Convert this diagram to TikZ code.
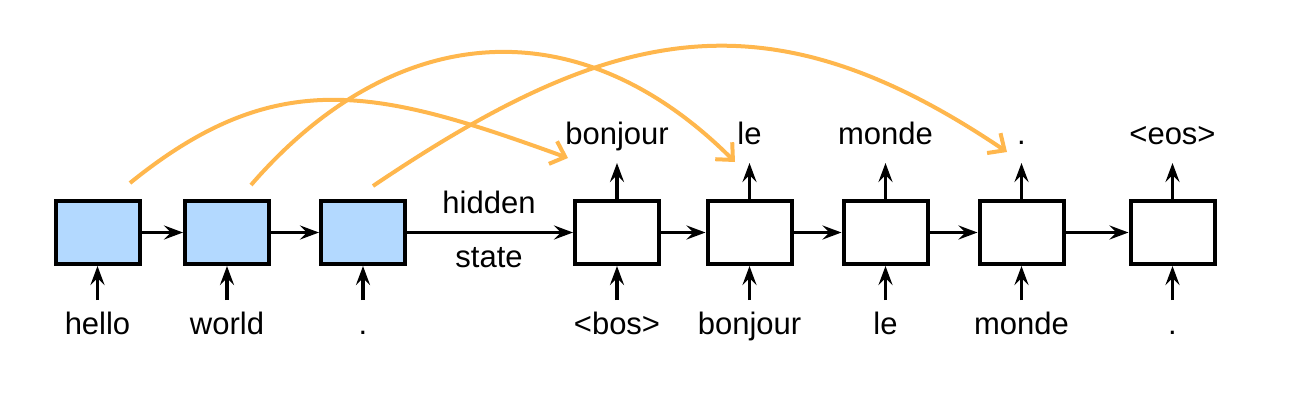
\documentclass[tikz,border=0pt]{standalone}
\usepackage{fontspec}
\setmainfont{Liberation Sans}
\usetikzlibrary{arrows.meta}
\definecolor{encfill}{RGB}{179,217,255}
\definecolor{attn}{RGB}{255,183,77}
\tikzset{
  cell/.style={draw=black, line width=4pt, minimum width=84pt, minimum height=63pt, inner sep=0pt},
  enc/.style={cell, fill=encfill},
  dec/.style={cell, fill=white},
  arr/.style={line width=3.5pt, -{Stealth[length=19pt,width=14pt,inset=7pt]}},
  att/.style={draw=attn, line width=4pt, -{Straight Barb[length=13pt,width=24pt]}},
  word/.style={anchor=base, inner sep=0pt, font=\fontsize{31}{37}\selectfont},
}
\begin{document}
\begin{tikzpicture}[x=1pt,y=-1pt]
\useasboundingbox (0,0) rectangle (1307,413);
% boxes
\node[enc] (b1) at (97.5,232.5) {};
\node[enc] (b2) at (227,232.5) {};
\node[enc] (b3) at (363,232.5) {};
\node[dec] (b4) at (617,232.5) {};
\node[dec] (b5) at (749.5,232.5) {};
\node[dec] (b6) at (885.5,232.5) {};
\node[dec] (b7) at (1021.5,232.5) {};
\node[dec] (b8) at (1172.5,232.5) {};
% input labels
\node[word] (l1) at (97.5,334) {hello};
\node[word] (l2) at (227,334) {world};
\node[word] (l3) at (363,334) {.};
\node[word] (l4) at (617,334) {<bos>};
\node[word] (l5) at (749.5,334) {bonjour};
\node[word] (l6) at (885.5,334) {le};
\node[word] (l7) at (1021.5,334) {monde};
\node[word] (l8) at (1172.5,334) {.};
% output labels
\node[word] (o4) at (617,144) {bonjour};
\node[word] (o5) at (749.5,144) {le};
\node[word] (o6) at (885.5,144) {monde};
\node[word] (o7) at (1021.5,144) {.};
\node[word] (o8) at (1172.5,144) {<eos>};
% hidden state
\node[word] (hid) at (489,213) {hidden};
\node[word] (sta) at (489,267) {state};
% input arrows
\foreach \i/\x in {1/97.5,2/227,3/363,4/617,5/749.5,6/885.5,7/1021.5,8/1172.5}{
  \coordinate (ti\i) at (\x,300);
  \draw[arr] (ti\i) -- (b\i.south);
}
% output arrows
\foreach \i/\x in {4/617,5/749.5,6/885.5,7/1021.5,8/1172.5}{
  \coordinate (to\i) at (\x,163);
  \draw[arr] (b\i.north) -- (to\i);
}
% recurrent arrows
\draw[arr] (b1.east) -- (b2.west);
\draw[arr] (b2.east) -- (b3.west);
\draw[arr] (b3.east) -- (b4.west);
\draw[arr] (b4.east) -- (b5.west);
\draw[arr] (b5.east) -- (b6.west);
\draw[arr] (b6.east) -- (b7.west);
\draw[arr] (b7.east) -- (b8.west);
% attention curves
\coordinate (s1) at (130,183);
\coordinate (e1) at (568,158);
\coordinate (s2) at (251,185);
\coordinate (e2) at (735,162);
\coordinate (s3) at (373,186);
\coordinate (e3) at (1007,152);
\draw[att] (s1) .. controls (278,63) and (380,90) .. (e1);
\draw[att] (s2) .. controls (395,19) and (579,6) .. (e2);
\draw[att] (s3) .. controls (613,24) and (767,-10) .. (e3);
\end{tikzpicture}
\end{document}
